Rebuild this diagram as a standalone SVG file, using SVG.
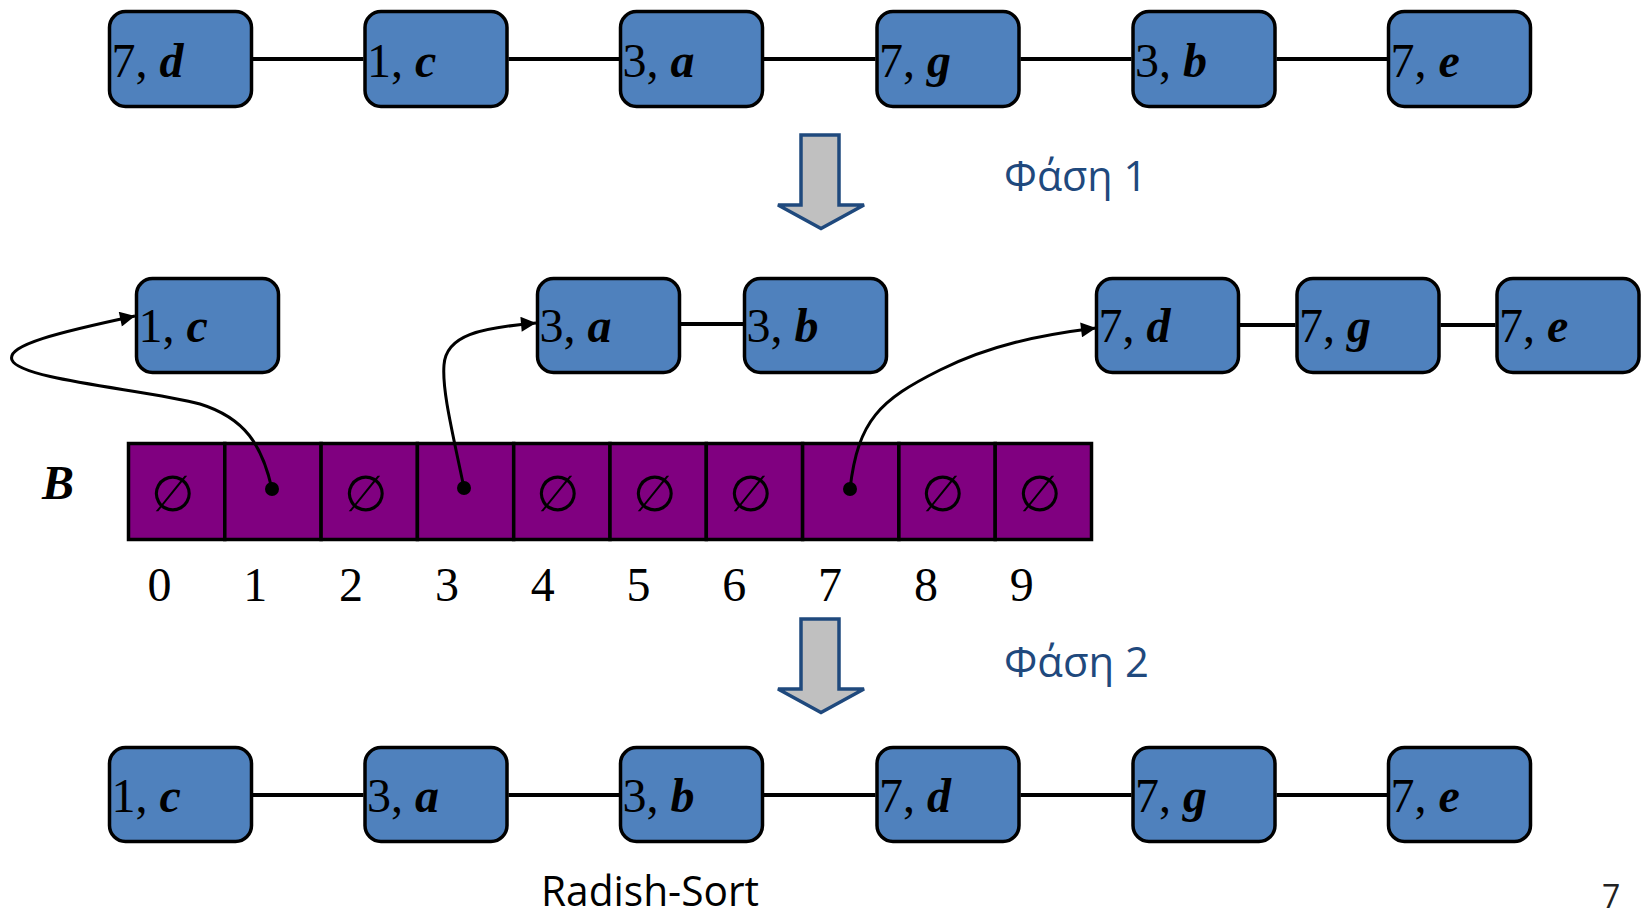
<svg xmlns="http://www.w3.org/2000/svg" width="1643" height="917" viewBox="0 0 1643 917">
<style>
.box{fill:#4f81bd;stroke:#000;stroke-width:3.5}
.cell{fill:#800080;stroke:#000;stroke-width:3.5}
.lbl{font-family:"Liberation Serif","Times New Roman",serif;font-size:48px;fill:#000}
.bi{font-weight:bold;font-style:italic}
.link{stroke:#000;stroke-width:4;fill:none}
.ptr{stroke:#000;stroke-width:3;fill:none;marker-end:url(#ah)}
.phase{font-family:"Open Sans","Noto Sans",sans-serif;font-size:42px;fill:#1f497d}
.big{fill:#c0c0c0;stroke:#1f497d;stroke-width:3.5;stroke-linejoin:miter}
.empty{font-family:"Liberation Serif","DejaVu Serif",serif;font-size:50px;fill:#000;text-anchor:middle}
.idx{text-anchor:middle}
</style>
<defs>
<marker id="ah" viewBox="0 0 10 10" refX="10" refY="5" markerWidth="6" markerHeight="5" orient="auto" markerUnits="strokeWidth">
<path d="M0,0 L10,5 L0,10 z" fill="#000"/>
</marker>
</defs>

<g id="connectors">
<line class="link" x1="253" y1="59" x2="363.5" y2="59"/>
<line class="link" x1="508.5" y1="59" x2="619" y2="59"/>
<line class="link" x1="764" y1="59" x2="875.5" y2="59"/>
<line class="link" x1="1020.5" y1="59" x2="1131.5" y2="59"/>
<line class="link" x1="1276.5" y1="59" x2="1387" y2="59"/>
<line class="link" x1="681" y1="324" x2="743" y2="324"/>
<line class="link" x1="1240" y1="325" x2="1295.5" y2="325"/>
<line class="link" x1="1440.5" y1="325" x2="1495.5" y2="325"/>
<line class="link" x1="253" y1="795" x2="363.5" y2="795"/>
<line class="link" x1="508.5" y1="795" x2="619" y2="795"/>
<line class="link" x1="764" y1="795" x2="875.5" y2="795"/>
<line class="link" x1="1020.5" y1="795" x2="1131.5" y2="795"/>
<line class="link" x1="1276.5" y1="795" x2="1387" y2="795"/>
</g>

<g id="top-row">
<g id="t1"><rect class="box" x="109.5" y="11.5" width="142" height="95" rx="16"/><text class="lbl" x="111.5" y="77">7, <tspan class="bi">d</tspan></text></g>
<g id="t2"><rect class="box" x="365" y="11.5" width="142" height="95" rx="16"/><text class="lbl" x="367" y="77">1, <tspan class="bi">c</tspan></text></g>
<g id="t3"><rect class="box" x="620.5" y="11.5" width="142" height="95" rx="16"/><text class="lbl" x="622.5" y="77">3, <tspan class="bi">a</tspan></text></g>
<g id="t4"><rect class="box" x="877" y="11.5" width="142" height="95" rx="16"/><text class="lbl" x="879" y="77">7, <tspan class="bi">g</tspan></text></g>
<g id="t5"><rect class="box" x="1133" y="11.5" width="142" height="95" rx="16"/><text class="lbl" x="1135" y="77">3, <tspan class="bi">b</tspan></text></g>
<g id="t6"><rect class="box" x="1388.5" y="11.5" width="142" height="95" rx="16"/><text class="lbl" x="1390.5" y="77">7, <tspan class="bi">e</tspan></text></g>
</g>

<g id="phase1">
<polygon class="big" points="801,135 839,135 839,205 864,205 821,228.5 778,205 801,205"/>
<text class="phase" x="1004" y="191" textLength="143" lengthAdjust="spacingAndGlyphs">Φάση 1</text>
</g>

<g id="middle-row">
<g id="m1"><rect class="box" x="136.5" y="278.5" width="142" height="94" rx="16"/><text class="lbl" x="138.5" y="342">1, <tspan class="bi">c</tspan></text></g>
<g id="m2"><rect class="box" x="537.5" y="278.5" width="142" height="94" rx="16"/><text class="lbl" x="539.5" y="342">3, <tspan class="bi">a</tspan></text></g>
<g id="m3"><rect class="box" x="744.5" y="278.5" width="142" height="94" rx="16"/><text class="lbl" x="746.5" y="342">3, <tspan class="bi">b</tspan></text></g>
<g id="m4"><rect class="box" x="1096.5" y="278.5" width="142" height="94" rx="16"/><text class="lbl" x="1098.5" y="342">7, <tspan class="bi">d</tspan></text></g>
<g id="m5"><rect class="box" x="1297" y="278.5" width="142" height="94" rx="16"/><text class="lbl" x="1299" y="342">7, <tspan class="bi">g</tspan></text></g>
<g id="m6"><rect class="box" x="1497" y="278.5" width="142" height="94" rx="16"/><text class="lbl" x="1499" y="342">7, <tspan class="bi">e</tspan></text></g>
</g>

<g id="array-B">
<text class="lbl bi" x="42" y="499">B</text>
<rect class="cell" x="128.5" y="443.5" width="96.3" height="96"/>
<rect class="cell" x="224.8" y="443.5" width="96.3" height="96"/>
<rect class="cell" x="321.1" y="443.5" width="96.3" height="96"/>
<rect class="cell" x="417.4" y="443.5" width="96.3" height="96"/>
<rect class="cell" x="513.7" y="443.5" width="96.3" height="96"/>
<rect class="cell" x="610" y="443.5" width="96.3" height="96"/>
<rect class="cell" x="706.3" y="443.5" width="96.3" height="96"/>
<rect class="cell" x="802.6" y="443.5" width="96.3" height="96"/>
<rect class="cell" x="898.9" y="443.5" width="96.3" height="96"/>
<rect class="cell" x="995.2" y="443.5" width="96.3" height="96"/>
<text class="empty" x="173" y="511">∅</text>
<text class="empty" x="365.6" y="511">∅</text>
<text class="empty" x="558.2" y="511">∅</text>
<text class="empty" x="654.5" y="511">∅</text>
<text class="empty" x="750.8" y="511">∅</text>
<text class="empty" x="943.4" y="511">∅</text>
<text class="empty" x="1039.7" y="511">∅</text>
<g class="lbl idx">
<text x="159.5" y="600.7">0</text>
<text x="255.3" y="600.7">1</text>
<text x="351.1" y="600.7">2</text>
<text x="446.9" y="600.7">3</text>
<text x="542.7" y="600.7">4</text>
<text x="638.5" y="600.7">5</text>
<text x="734.3" y="600.7">6</text>
<text x="830.1" y="600.7">7</text>
<text x="925.9" y="600.7">8</text>
<text x="1021.7" y="600.7">9</text>
</g>
</g>

<g id="pointers">
<path class="ptr" d="M272,489 C262,445 245,418 200,404 C150,390 20,380 12,360 C6,345 60,332 135,316"/>
<path class="ptr" d="M464,488 C452,430 442,390 444,365 C446,335 480,328 536,323"/>
<path class="ptr" d="M850,489 C858,420 880,400 940,370 C990,345 1040,335 1096,328"/>
<circle cx="272" cy="489" r="7" fill="#000"/>
<circle cx="464" cy="488" r="7" fill="#000"/>
<circle cx="850" cy="489" r="7" fill="#000"/>
</g>

<g id="phase2">
<polygon class="big" points="801,619 839,619 839,689 864,689 821,712.5 778,689 801,689"/>
<text class="phase" x="1004" y="677" textLength="145" lengthAdjust="spacingAndGlyphs">Φάση 2</text>
</g>

<g id="bottom-row">
<g id="b1"><rect class="box" x="109.5" y="747.5" width="142" height="94" rx="16"/><text class="lbl" x="111.5" y="812">1, <tspan class="bi">c</tspan></text></g>
<g id="b2"><rect class="box" x="365" y="747.5" width="142" height="94" rx="16"/><text class="lbl" x="367" y="812">3, <tspan class="bi">a</tspan></text></g>
<g id="b3"><rect class="box" x="620.5" y="747.5" width="142" height="94" rx="16"/><text class="lbl" x="622.5" y="812">3, <tspan class="bi">b</tspan></text></g>
<g id="b4"><rect class="box" x="877" y="747.5" width="142" height="94" rx="16"/><text class="lbl" x="879" y="812">7, <tspan class="bi">d</tspan></text></g>
<g id="b5"><rect class="box" x="1133" y="747.5" width="142" height="94" rx="16"/><text class="lbl" x="1135" y="812">7, <tspan class="bi">g</tspan></text></g>
<g id="b6"><rect class="box" x="1388.5" y="747.5" width="142" height="94" rx="16"/><text class="lbl" x="1390.5" y="812">7, <tspan class="bi">e</tspan></text></g>
</g>

<text x="541" y="906" style="font-family:'Open Sans','Noto Sans',sans-serif;font-size:42px;fill:#000" textLength="218" lengthAdjust="spacingAndGlyphs">Radish-Sort</text>
<text x="1602" y="908" style="font-family:'Open Sans','Noto Sans',sans-serif;font-size:32px;fill:#222">7</text>
</svg>
